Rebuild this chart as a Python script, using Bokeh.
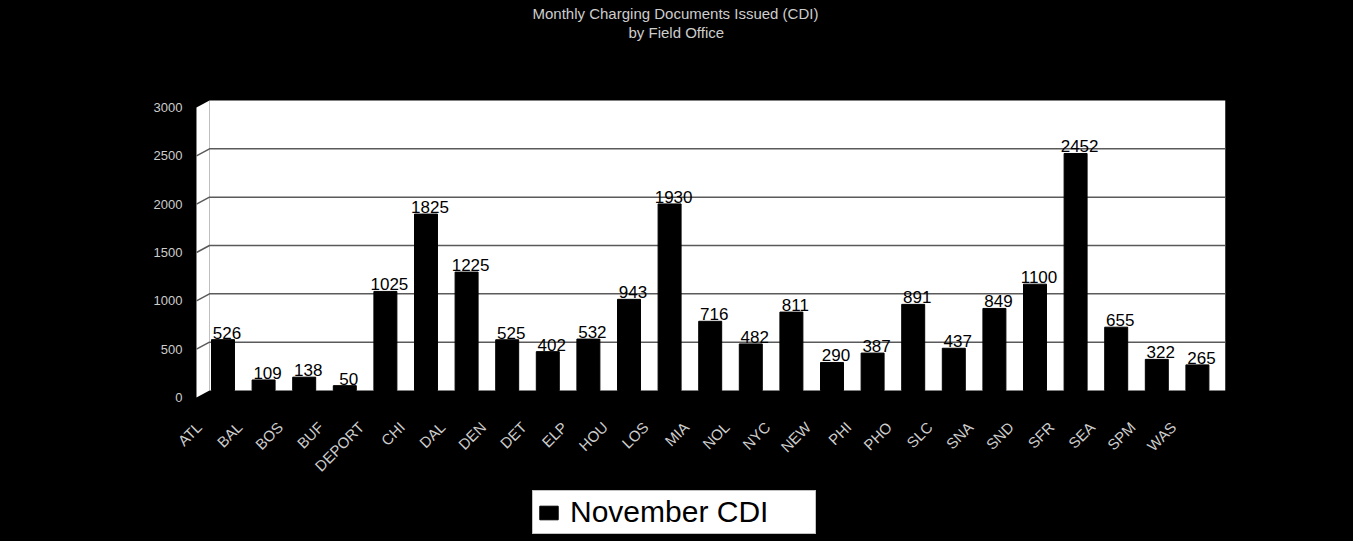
import math
from bokeh.plotting import figure
from bokeh.models import (Range1d, LinearAxis, FixedTicker, Legend, LegendItem,
                          Title, ColumnDataSource)
from bokeh.core.properties import value
from bokeh.embed import file_html
from bokeh.resources import INLINE

# ---- data -------------------------------------------------------------
offices = ["ATL", "BAL", "BOS", "BUF", "DEPORT", "CHI", "DAL", "DEN", "DET",
           "ELP", "HOU", "LOS", "MIA", "NOL", "NYC", "NEW", "PHI", "PHO",
           "SLC", "SNA", "SND", "SFR", "SEA", "SPM", "WAS"]
cdi = [526, 109, 138, 50, 1025, 1825, 1225, 525, 402, 532, 943, 1930, 716,
       482, 811, 290, 387, 891, 437, 849, 1100, 2452, 655, 322, 265]
y_ticks = [0, 500, 1000, 1500, 2000, 2500, 3000]
series_name = "November CDI"
title_line1 = "Monthly Charging Documents Issued (CDI)"
title_line2 = "by Field Office"

# ---- layout constants (3-D look: back wall + front plane) -------------
idx = list(range(len(offices)))
X0, X1 = -1.416, 24.692       # frame x extent (categories at 0..24)
XL = -0.653                   # front edge of the side wall
XW = -0.333                   # where the back wall starts
YMAX = 3000
K = 290.0 / YMAX              # pixels per unit
Y0F = -7.0 / K                # front-plane zero (floor depth)
YTOP = 350.0 / K              # black space above the wall, under the titles
YBOT = -148.0 / K             # black space below: category labels + legend
FONT = "Liberation Sans"
GREY = "#cdcdcd"

src = ColumnDataSource(dict(x=idx, top=cdi, lbl=[str(v) for v in cdi],
                            name=offices))

p = figure(width=1348, height=538, output_backend="svg", toolbar_location=None,
           x_range=Range1d(X0, X1), y_range=Range1d(YBOT, YTOP),
           x_axis_location=None, y_axis_location=None,
           min_border_left=165, min_border_right=123,
           min_border_top=40, min_border_bottom=0,
           background_fill_color="black", border_fill_color="black",
           outline_line_color=None)
p.grid.visible = False

# back wall and left wall
p.quad(left=XW, right=X1, bottom=0, top=YMAX, fill_color="white", line_color=None)
p.patch([XL, XL, XW, XW], [Y0F, YMAX + Y0F, YMAX, 0], fill_color="white",
        line_color=None)

# gridlines (slanted on the side wall, flat on the back wall)
gx, gy = [], []
for v in y_ticks[1:-1]:
    gx.append([XL, XW, X1])
    gy.append([v + Y0F, v, v])
p.multi_line(gx, gy, line_color="#5a5a5a", line_width=1.5)

bars = p.vbar(x="x", top="top", bottom=0, width=0.566, source=src,
              fill_color="black", line_color="black")

# value labels
p.text(x="x", y="top", text="lbl", source=src, x_offset=4, y_offset=-1,
       text_align="center", text_baseline="bottom",
       text_font=value(FONT), text_font_size="17px", text_color="black")

# category labels on the front plane, rotated 45 degrees
p.text(x="x", y=Y0F, text="name", source=src, angle=math.pi / 4,
       x_offset=-24, y_offset=27, text_align="right", text_baseline="middle",
       text_font=value(FONT), text_font_size="15px", text_color=GREY)

# value axis (front plane); labels sit just left of the side wall
p.extra_y_ranges = {"front": Range1d(YBOT - Y0F, YTOP - Y0F)}
yax = LinearAxis(y_range_name="front", ticker=FixedTicker(ticks=y_ticks),
                 axis_line_color=None, major_tick_line_color=None,
                 minor_tick_line_color=None, major_tick_out=0, major_tick_in=0,
                 major_label_standoff=-17, major_label_text_color=GREY,
                 major_label_text_font=FONT, major_label_text_font_size="13px")
p.add_layout(yax, "left")

# titles (p.title is the outer line, the added Title sits next to the frame)
p.title.text = title_line1
p.title.align = "left"
p.title.offset = 367
p.title.standoff = 0
p.title.text_color = GREY
p.title.text_font = FONT
p.title.text_font_style = "normal"
p.title.text_font_size = "15px"
p.add_layout(Title(text=title_line2, align="left", offset=463, standoff=0,
                   text_color=GREY, text_font=FONT,
                   text_font_style="normal", text_font_size="15px"), "above")

# legend
legend = Legend(items=[LegendItem(label=series_name, renderers=[bars])],
                location=(367, 4), background_fill_color="white",
                background_fill_alpha=1.0, border_line_color="#888888",
                border_line_width=1, label_text_font=FONT,
                label_text_font_size="30px", label_text_color="black",
                glyph_width=23, glyph_height=17, padding=4, margin=0,
                label_standoff=10, label_width=241)
p.add_layout(legend, "center")

html = file_html(p, INLINE)
html = html.replace("</head>", "<style>html, body { background-color: #000000; }</style>\n</head>", 1)
open("out.html", "w").write(html)
